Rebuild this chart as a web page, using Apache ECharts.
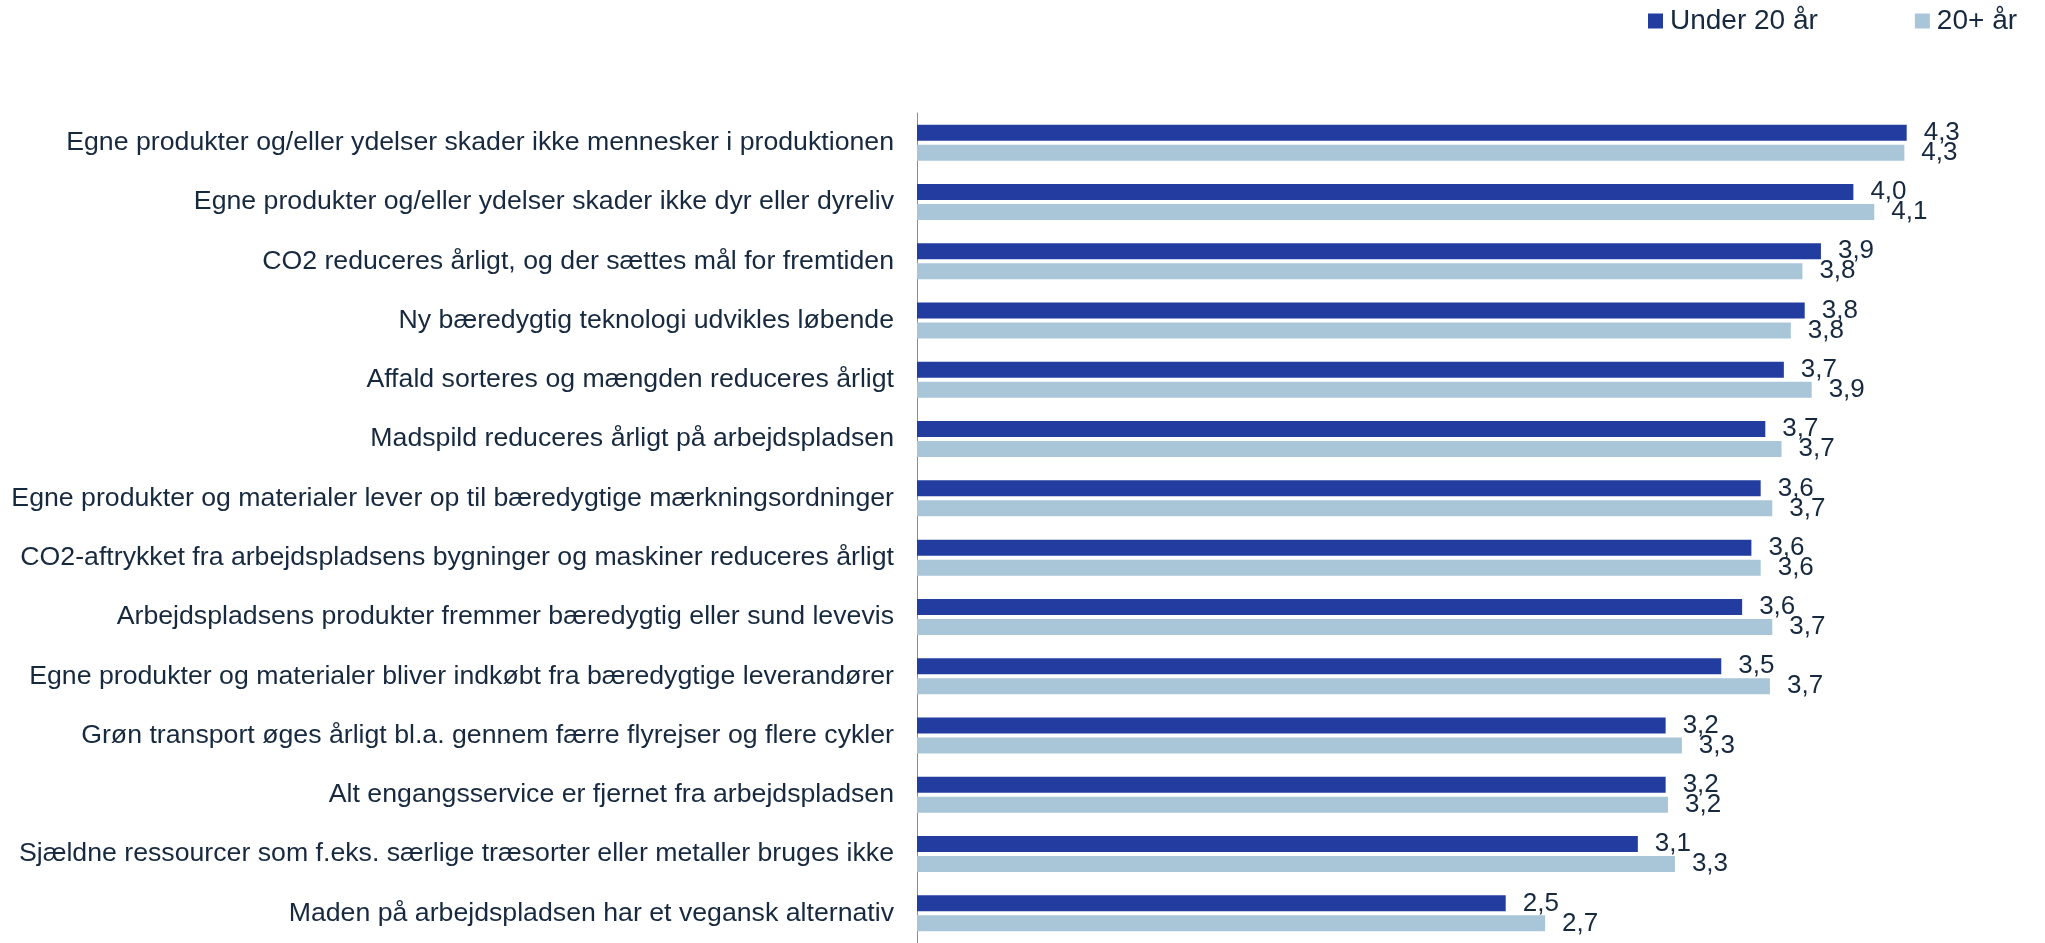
<!DOCTYPE html>
<html>
<head>
<meta charset="utf-8">
<style>
  html, body { margin: 0; padding: 0; background: #fff; }
  #chart { width: 2045px; height: 943px; }
</style>
<script src="https://cdn.jsdelivr.net/npm/echarts@6/dist/echarts.min.js"></script>
</head>
<body>
<div id="chart"></div>
<script>
const categories = [
  'Egne produkter og/eller ydelser skader ikke mennesker i produktionen',
  'Egne produkter og/eller ydelser skader ikke dyr eller dyreliv',
  'CO2 reduceres årligt, og der sættes mål for fremtiden',
  'Ny bæredygtig teknologi udvikles løbende',
  'Affald sorteres og mængden reduceres årligt',
  'Madspild reduceres årligt på arbejdspladsen',
  'Egne produkter og materialer lever op til bæredygtige mærkningsordninger',
  'CO2-aftrykket fra arbejdspladsens bygninger og maskiner reduceres årligt',
  'Arbejdspladsens produkter fremmer bæredygtig eller sund levevis',
  'Egne produkter og materialer bliver indkøbt fra bæredygtige leverandører',
  'Grøn transport øges årligt bl.a. gennem færre flyrejser og flere cykler',
  'Alt engangsservice er fjernet fra arbejdspladsen',
  'Sjældne ressourcer som f.eks. særlige træsorter eller metaller bruges ikke',
  'Maden på arbejdspladsen har et vegansk alternativ'
]
const under20 = [4.27, 4.04, 3.90, 3.83, 3.74, 3.66, 3.64, 3.60, 3.56, 3.47, 3.23, 3.23, 3.11, 2.54]
const over20 = [4.26, 4.13, 3.82, 3.77, 3.86, 3.73, 3.69, 3.64, 3.69, 3.68, 3.30, 3.24, 3.27, 2.71]
const seriesNames = ['Under 20 år', '20+ år']

const textColor = '#17293f'
const fontFamily = '"Liberation Sans", Arial, sans-serif'

const valueLabel = {
  show: true,
  position: 'right',
  distance: 17,
  color: textColor,
  fontSize: 26,
  fontFamily: fontFamily,
  formatter: p => p.value.toFixed(1).replace('.', ',')
}

const chart = echarts.init(document.getElementById('chart'))
chart.setOption({
  animation: false,
  color: ['#233ca0', '#a8c6d8'],
  legend: {
    data: seriesNames,
    left: 1643,
    top: 2,
    itemWidth: 15,
    itemHeight: 15,
    itemGap: 97,
    icon: 'rect',
    textStyle: {
      color: textColor,
      fontSize: 28,
      fontFamily: fontFamily,
      padding: [0, 0, 0, 2]
    }
  },
  grid: {
    left: 917,
    top: 113,
    width: 1043,
    height: 834
  },
  xAxis: {
    type: 'value',
    min: 0,
    max: 4.5,
    show: false,
    splitLine: { show: false }
  },
  yAxis: {
    type: 'category',
    data: categories,
    inverse: true,
    axisTick: { show: false },
    axisLine: { lineStyle: { color: '#8c8c8c', width: 1 } },
    axisLabel: {
      margin: 23,
      color: textColor,
      fontSize: 26.7,
      fontFamily: fontFamily
    }
  },
  series: [
    {
      name: seriesNames[0],
      type: 'bar',
      data: under20,
      barWidth: 16,
      barGap: '25%',
      label: valueLabel
    },
    {
      name: seriesNames[1],
      type: 'bar',
      data: over20,
      barWidth: 16,
      barGap: '25%',
      label: valueLabel
    }
  ]
})
</script>
</body>
</html>
